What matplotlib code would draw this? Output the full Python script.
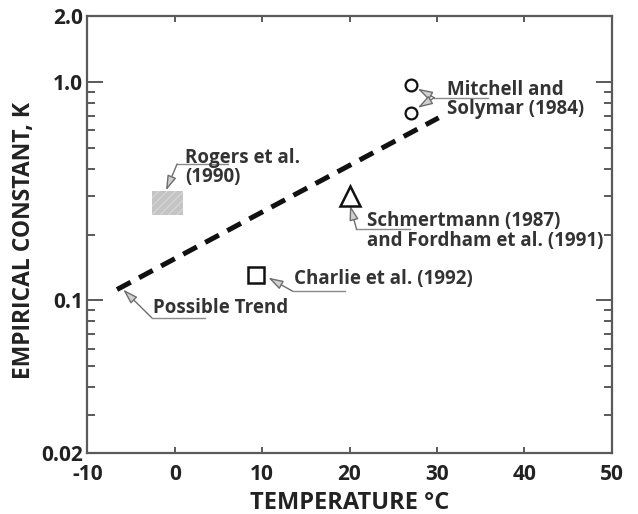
import matplotlib
matplotlib.use("Agg")
import matplotlib.pyplot as plt
from matplotlib.ticker import FixedLocator, NullFormatter, FixedFormatter

plt.rcParams['font.family'] = ['Open Sans', 'DejaVu Sans']

# ---- data ----
mitchell_T = [27.0, 27.0]
mitchell_K = [0.97, 0.722]
schmert_T = [20.0]
schmert_K = [0.30]
charlie_T = [9.3]
charlie_K = [0.13]
rogers_T = [-2.6, 1.0]
rogers_K = [0.245, 0.316]
trend_T = [-6.6, 30.2]
trend_K = [0.112, 0.684]

x_ticks = [-10, 0, 10, 20, 30, 40, 50]
y_major = [0.02, 0.1, 1.0, 2.0]
y_major_labels = ['0.02', '0.1', '1.0', '2.0']
y_minor = [0.03, 0.04, 0.05, 0.06, 0.07, 0.08, 0.09,
           0.2, 0.3, 0.4, 0.5, 0.6, 0.7, 0.8, 0.9]

spine_col = '#5a5a5a'
text_col = '#222222'
ann_col = '#333333'

fig = plt.figure(figsize=(6.38, 5.14), dpi=100)
ax = fig.add_axes([87.3/638, 1-453/514, (611.7-87.3)/638, (453-16)/514])
ax.set_yscale('log')
ax.set_xlim(-10, 50)
ax.set_ylim(0.02, 2.0)

# Rogers shaded region
ax.fill_between(rogers_T, rogers_K[0], rogers_K[1], facecolor='#c4c4c4',
                edgecolor='#d4d4d4', hatch='////', linewidth=0, zorder=2)

# trend line
ax.plot(trend_T, trend_K, color='#111111', lw=3.6, dashes=(3.1, 1.9),
        solid_capstyle='butt', dash_capstyle='butt', zorder=3)

# markers
ax.plot(mitchell_T, mitchell_K, 'o', ms=8.5, mfc='white', mec='#111111', mew=1.6, zorder=4, ls='none')
ax.plot(schmert_T, schmert_K, '^', ms=15, mfc='white', mec='#111111', mew=1.8, zorder=4, ls='none')
ax.plot(charlie_T, charlie_K, 's', ms=11, mfc='white', mec='#111111', mew=1.8, zorder=4, ls='none')

# ticks
ax.xaxis.set_major_locator(FixedLocator(x_ticks))
ax.set_xticklabels([str(v) for v in x_ticks])
ax.yaxis.set_major_locator(FixedLocator(y_major))
ax.yaxis.set_major_formatter(FixedFormatter(y_major_labels))
ax.yaxis.set_minor_locator(FixedLocator(y_minor))
ax.yaxis.set_minor_formatter(NullFormatter())
ax.xaxis.set_minor_locator(FixedLocator([]))

ax.tick_params(axis='x', which='major', direction='in', length=4.5, width=1.4,
               color=spine_col, top=True, bottom=True, labelsize=15,
               labelcolor=text_col, pad=8)
ax.tick_params(axis='y', which='major', direction='in', length=11.5, width=1.4,
               color=spine_col, left=True, right=True, labelsize=15,
               labelcolor=text_col, pad=3)
ax.tick_params(axis='y', which='minor', direction='in', length=5.5, width=1.4,
               color=spine_col, left=True, right=True)
for lab in ax.get_xticklabels() + ax.get_yticklabels():
    lab.set_fontweight('bold')

for s in ax.spines.values():
    s.set_color(spine_col)
    s.set_linewidth(1.6)

ax.set_xlabel('TEMPERATURE °C', fontsize=17, fontweight='bold', color=text_col, labelpad=4)
ax.set_ylabel('EMPIRICAL CONSTANT, K', fontsize=16.5, fontweight='bold', color=text_col)
ax.yaxis.set_label_coords(-0.098, 0.487)

# annotations
arrow_kw = dict(arrowstyle='-|>,head_length=0.9,head_width=0.28',
                ec='#6e6e6e', fc='#cfcfcf', lw=1.0, shrinkA=0, shrinkB=0)
lead_kw = dict(color='#8a8a8a', lw=1.0, zorder=1)
txt_kw = dict(fontsize=13.5, fontweight='bold', color=ann_col, ha='left', va='center',
              linespacing=0.95)

# Mitchell and Solymar
ax.text(31.1, 0.83, 'Mitchell and\nSolymar (1984)', **txt_kw)
ax.plot([29.7, 35.9], [0.845, 0.845], **lead_kw)
ax.annotate('', xy=(27.8, 0.93), xytext=(29.7, 0.845), arrowprops=arrow_kw)
ax.annotate('', xy=(27.8, 0.76), xytext=(29.7, 0.845), arrowprops=arrow_kw)

# Rogers
ax.text(1.2, 0.405, 'Rogers et al.\n(1990)', **txt_kw)
ax.plot([0.27, 6.1], [0.42, 0.42], **lead_kw)
ax.annotate('', xy=(-1.0, 0.318), xytext=(0.27, 0.42), arrowprops=arrow_kw)

# Schmertmann
ax.text(22.0, 0.2075, 'Schmertmann (1987)\nand Fordham et al. (1991)', **txt_kw)
ax.plot([20.8, 26.9], [0.212, 0.212], **lead_kw)
ax.annotate('', xy=(20.06, 0.272), xytext=(20.8, 0.212), arrowprops=arrow_kw)

# Charlie
ax.text(13.6, 0.125, 'Charlie et al. (1992)', **txt_kw)
ax.plot([13.5, 19.5], [0.110, 0.110], **lead_kw)
ax.annotate('', xy=(10.7, 0.127), xytext=(13.5, 0.110), arrowprops=arrow_kw)

# Possible trend
ax.text(-2.45, 0.0925, 'Possible Trend', **txt_kw)
ax.plot([-2.63, 3.47], [0.0832, 0.0832], **lead_kw)
ax.annotate('', xy=(-5.9, 0.112), xytext=(-2.63, 0.0832), arrowprops=arrow_kw)

fig.savefig('out.png', dpi=100)
